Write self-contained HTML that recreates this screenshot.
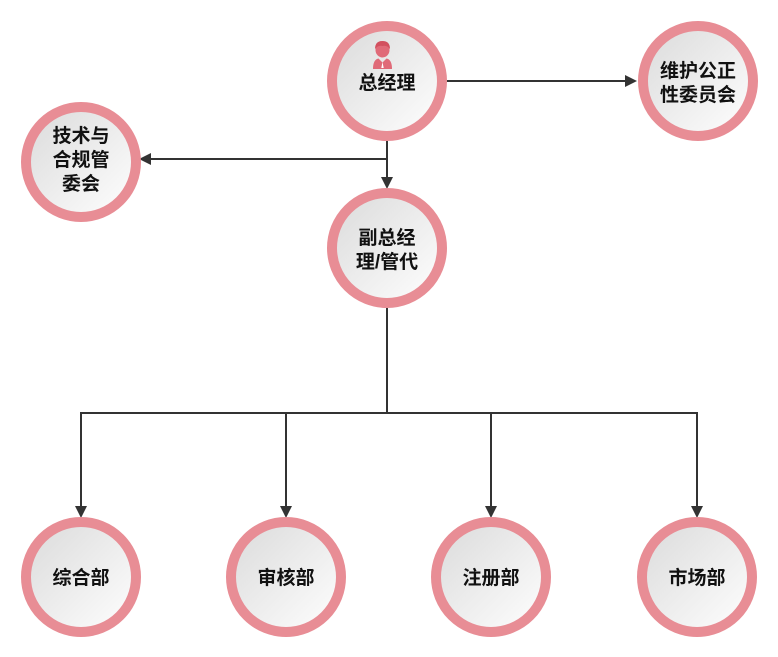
<!DOCTYPE html>
<html>
<head>
<meta charset="utf-8">
<style>
  html,body{margin:0;padding:0;background:#fff;}
  body{width:778px;height:657px;overflow:hidden;}
  svg{display:block;}
  text{font-family:"Liberation Sans","Noto Sans CJK SC",sans-serif;font-weight:bold;font-size:19px;fill:#111;text-anchor:middle;}
</style>
</head>
<body>
<svg width="778" height="657" viewBox="0 0 778 657" xmlns="http://www.w3.org/2000/svg">
  <defs>
    <linearGradient id="g" x1="0" y1="0" x2="1" y2="1">
      <stop offset="0" stop-color="#dadada"/>
      <stop offset="1" stop-color="#ffffff"/>
    </linearGradient>
  </defs>

  <!-- connectors -->
  <g stroke="#333" stroke-width="2" fill="none">
    <path d="M387 141 V180"/>
    <path d="M387 159 H148"/>
    <path d="M447 81 H628"/>
    <path d="M387 308 V413"/>
    <path d="M80 413 H698"/>
    <path d="M81 412 V509"/>
    <path d="M286 412 V509"/>
    <path d="M491 412 V509"/>
    <path d="M697 412 V509"/>
  </g>
  <g fill="#333">
    <polygon points="381,177 393,177 387,189"/>
    <polygon points="151,153 151,165 139,159"/>
    <polygon points="625,75 625,87 637,81"/>
    <polygon points="75,506 87,506 81,518"/>
    <polygon points="280,506 292,506 286,518"/>
    <polygon points="485,506 497,506 491,518"/>
    <polygon points="691,506 703,506 697,518"/>
  </g>

  <!-- circles -->
  <g fill="url(#g)" stroke="#e88d95" stroke-width="10">
    <circle cx="387" cy="81" r="55"/>
    <circle cx="698" cy="81" r="55"/>
    <circle cx="81" cy="162" r="55"/>
    <circle cx="387" cy="248" r="55"/>
    <circle cx="81" cy="577" r="55"/>
    <circle cx="286" cy="577" r="55"/>
    <circle cx="491" cy="577" r="55"/>
    <circle cx="697" cy="577" r="55"/>
  </g>

  <!-- person icon -->
  <g fill="#e06a78">
    <ellipse cx="382.5" cy="50" rx="7" ry="7.5"/>
    <path d="M375 49 Q375 41 382.5 41 Q390 41 390 49 Q387 45 382.5 46 Q378 45 375 49 Z" fill="#d2505f"/>
    <path d="M373 69 Q373 59.5 378.5 58.5 L382.5 62.5 L386.5 58.5 Q392 59.5 392 69 Z"/>
  </g>
  <path d="M382.5 62 L381.3 68 L383.7 68 Z" fill="#fff"/>

  <!-- labels -->
  <text x="387" y="89">总经理</text>
  <text x="698" y="77">维护公正</text>
  <text x="698" y="101">性委员会</text>
  <text x="81" y="142">技术与</text>
  <text x="81" y="166">合规管</text>
  <text x="81" y="190">委会</text>
  <text x="387" y="244">副总经</text>
  <text x="387" y="268">理/管代</text>
  <text x="81" y="584">综合部</text>
  <text x="286" y="584">审核部</text>
  <text x="491" y="584">注册部</text>
  <text x="697" y="584">市场部</text>
</svg>
</body>
</html>
